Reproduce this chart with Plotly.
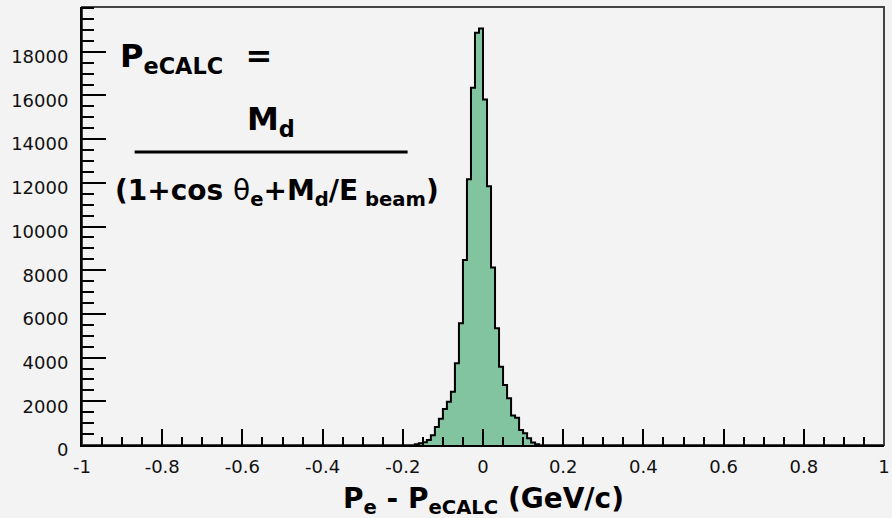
import numpy as np
import plotly.graph_objects as go

# ---- data ----
bin_start = -0.17
bin_width = 0.01
counts = [40, 80, 130, 230, 450, 820, 1200, 1650, 1980, 2440,
          3740, 5570, 8470, 12160, 16350, 18870, 19070, 15820, 11850, 8130,
          5350, 3580, 2750, 2140, 1350, 1250, 690, 540, 310, 120, 30]

x_tick_vals = [-1, -0.8, -0.6, -0.4, -0.2, 0, 0.2, 0.4, 0.6, 0.8, 1]
x_tick_text = ["-1", "-0.8", "-0.6", "-0.4", "-0.2", "0", "0.2", "0.4", "0.6", "0.8", "1"]
y_tick_vals = [0, 2000, 4000, 6000, 8000, 10000, 12000, 14000, 16000, 18000]
y_tick_text = ["0", "2000", "4000", "6000", "8000", "10000", "12000", "14000", "16000", "18000"]

x_title = "<b>P<sub>e</sub> - P<sub>eCALC</sub> (GeV/c)</b>"
formula_lhs = "<b>P<sub>eCALC</sub>&nbsp; =</b>"
formula_num = "<b>M<sub>d</sub></b>"
formula_den = "<b>(1+cos </b>θ<sub><b>e</b></sub><b>+M<sub>d</sub>/E<sub> beam</sub>)</b>"

# ---- build step outline ----
edges = bin_start + bin_width * np.arange(len(counts) + 1)
xs = [edges[0]] + list(edges[:-1]) + [edges[-1]]
ys = [0] + counts + [0]

BG = "#f3f3f3"
FONT = "DejaVu Sans"

fig = go.Figure()
fig.add_trace(go.Scatter(
    x=xs, y=ys, mode="lines",
    line=dict(shape="hv", color="black", width=2),
    fill="tozeroy", fillcolor="rgb(130,196,160)",
    hoverinfo="skip", showlegend=False,
))

fig.update_layout(
    width=892, height=518,
    paper_bgcolor=BG, plot_bgcolor=BG,
    margin=dict(l=82, r=2, t=7, b=73),
    font=dict(family=FONT, color="black"),
    xaxis=dict(
        range=[-1, 1], tickmode="array", tickvals=x_tick_vals, ticktext=x_tick_text,
        ticks="inside", ticklen=16, tickwidth=2, tickcolor="black",
        showline=True, linecolor="black", linewidth=2,
        showgrid=False, zeroline=False,
        tickfont=dict(family=FONT, size=18, color="#111"),
        ticklabelstandoff=4, ticklabeloverflow="allow",
        minor=dict(tickmode="linear", tick0=-1, dtick=0.05, ticks="inside",
                   ticklen=8, tickwidth=2, tickcolor="black", showgrid=False),
    ),
    yaxis=dict(
        range=[0, 20050], tickmode="array", tickvals=y_tick_vals, ticktext=y_tick_text,
        ticks="inside", ticklen=24, tickwidth=2, tickcolor="black",
        showline=True, linecolor="black", linewidth=2,
        showgrid=False, zeroline=False,
        tickfont=dict(family=FONT, size=18, color="#111"),
        ticklabelstandoff=8, ticklabelshift=5,
        minor=dict(tickmode="linear", tick0=0, dtick=500, ticks="inside",
                   ticklen=12, tickwidth=2, tickcolor="black", showgrid=False),
    ),
    shapes=[
        dict(type="rect", xref="paper", yref="paper", x0=0, y0=0, x1=1, y1=1,
             line=dict(color="#444", width=2), layer="below"),
        dict(type="line", xref="paper", yref="paper", x0=0.0656, x1=0.406,
             y0=0.669, y1=0.669, line=dict(color="black", width=3)),
    ],
    annotations=[
        dict(text=formula_lhs, xref="paper", yref="paper", x=0.0446, y=0.884,
             xanchor="left", yanchor="middle", showarrow=False,
             font=dict(family=FONT, size=32, color="black")),
        dict(text=formula_num, xref="paper", yref="paper", x=0.2351, y=0.740,
             xanchor="center", yanchor="middle", showarrow=False,
             font=dict(family=FONT, size=32, color="black")),
        dict(text=formula_den, xref="paper", yref="paper", x=0.2432, y=0.577,
             xanchor="center", yanchor="middle", showarrow=False,
             font=dict(family=FONT, size=28, color="black")),
        dict(text=x_title, xref="paper", yref="paper", x=0.5006, y=-0.1256,
             xanchor="center", yanchor="middle", showarrow=False,
             font=dict(family=FONT, size=28, color="black")),
    ],
)

fig.write_html("out.html", config={"displayModeBar": False},
               post_script="document.body.style.margin='0px';")
